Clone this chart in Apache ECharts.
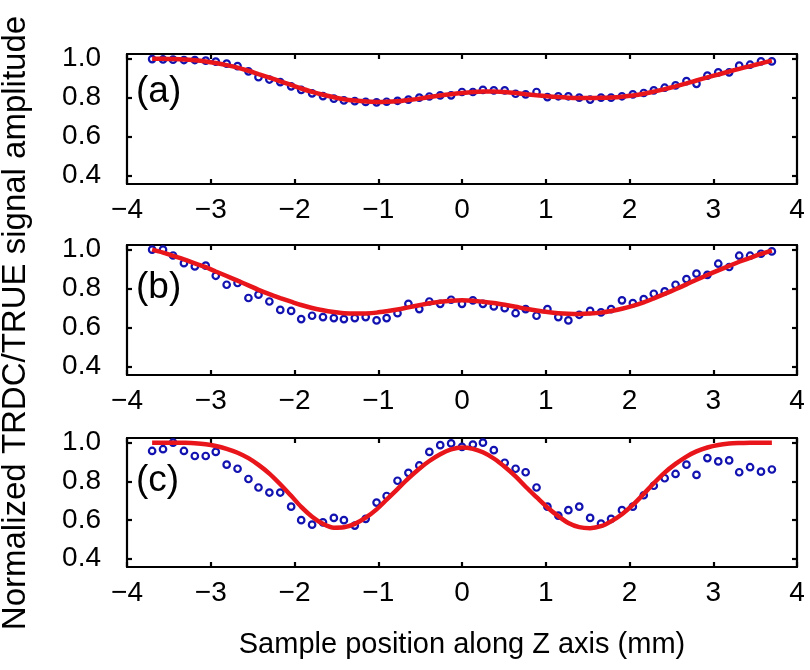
<!DOCTYPE html>
<html>
<head>
<meta charset="utf-8">
<script src="https://cdn.jsdelivr.net/npm/echarts@6/dist/echarts.min.js"></script>
<style>
  html, body { margin: 0; padding: 0; background: #ffffff; }
  #chart { width: 810px; height: 670px; }
</style>
</head>
<body>
<div id="chart"></div>
<script>
// Sample positions along Z (mm)
const xPos = [-3.70,-3.57,-3.45,-3.32,-3.19,-3.06,-2.94,-2.81,-2.68,-2.55,
  -2.43,-2.30,-2.17,-2.04,-1.92,-1.79,-1.66,-1.53,-1.41,-1.28,
  -1.15,-1.02,-0.90,-0.77,-0.64,-0.51,-0.39,-0.26,-0.13,0.00,
  0.13,0.25,0.38,0.51,0.64,0.76,0.89,1.02,1.15,1.27,
  1.40,1.53,1.66,1.78,1.91,2.04,2.17,2.29,2.42,2.55,
  2.68,2.80,2.93,3.06,3.19,3.31,3.44,3.57,3.70];

// Panel (a)
const measA = [0.998,0.996,0.995,0.993,0.993,0.990,0.985,0.975,0.962,0.935,
  0.905,0.893,0.880,0.858,0.840,0.822,0.808,0.795,0.786,0.782,
  0.778,0.776,0.779,0.784,0.790,0.800,0.806,0.812,0.812,0.829,
  0.829,0.840,0.837,0.837,0.820,0.817,0.829,0.803,0.807,0.807,
  0.800,0.790,0.800,0.800,0.807,0.817,0.824,0.837,0.851,0.863,
  0.885,0.871,0.913,0.930,0.930,0.964,0.969,0.986,0.986];
const fitA = [1.000,0.999,0.998,0.996,0.992,0.986,0.978,0.967,0.954,0.938,
  0.921,0.903,0.884,0.865,0.847,0.830,0.815,0.802,0.792,0.785,
  0.780,0.778,0.779,0.782,0.788,0.795,0.803,0.811,0.818,0.824,
  0.829,0.832,0.832,0.829,0.824,0.818,0.812,0.807,0.803,0.800,
  0.798,0.798,0.799,0.801,0.805,0.811,0.820,0.831,0.844,0.858,
  0.873,0.888,0.904,0.919,0.934,0.948,0.962,0.976,0.990];

// Panel (b)
const measB = [1.000,1.000,0.970,0.931,0.914,0.918,0.866,0.820,0.829,0.752,
  0.769,0.734,0.691,0.686,0.644,0.661,0.654,0.649,0.644,0.649,
  0.654,0.637,0.649,0.674,0.722,0.695,0.734,0.722,0.743,0.722,
  0.740,0.722,0.709,0.700,0.674,0.695,0.661,0.695,0.654,0.637,
  0.666,0.686,0.678,0.695,0.740,0.726,0.746,0.774,0.786,0.820,
  0.849,0.877,0.871,0.928,0.911,0.969,0.969,0.979,0.991];
const fitB = [1.000,0.985,0.968,0.950,0.930,0.910,0.888,0.865,0.841,0.817,
  0.794,0.772,0.752,0.733,0.716,0.701,0.689,0.680,0.674,0.672,
  0.673,0.677,0.684,0.693,0.704,0.715,0.725,0.733,0.738,0.740,
  0.738,0.733,0.726,0.717,0.707,0.697,0.688,0.680,0.674,0.671,
  0.670,0.672,0.677,0.685,0.697,0.712,0.730,0.750,0.773,0.797,
  0.822,0.846,0.870,0.894,0.917,0.938,0.958,0.978,0.995];

// Panel (c)
const measC = [0.957,0.966,1.000,0.957,0.931,0.931,0.952,0.886,0.865,0.812,
  0.768,0.742,0.742,0.669,0.599,0.576,0.588,0.611,0.599,0.571,
  0.606,0.690,0.724,0.803,0.844,0.882,0.952,0.987,0.996,0.978,
  0.990,1.000,0.961,0.896,0.865,0.847,0.768,0.669,0.623,0.651,
  0.669,0.611,0.581,0.606,0.651,0.669,0.728,0.777,0.816,0.838,
  0.886,0.833,0.920,0.903,0.908,0.847,0.873,0.850,0.861];
const fitC = [1.000,1.000,1.000,0.999,0.997,0.992,0.983,0.968,0.948,0.920,
  0.885,0.840,0.785,0.725,0.668,0.617,0.580,0.560,0.562,0.580,
  0.612,0.655,0.705,0.760,0.815,0.865,0.905,0.940,0.965,0.975,
  0.968,0.950,0.918,0.875,0.825,0.772,0.718,0.665,0.620,0.585,
  0.563,0.558,0.568,0.593,0.630,0.678,0.735,0.790,0.845,0.890,
  0.928,0.955,0.975,0.988,0.995,0.998,1.000,1.000,1.000];

const yTicks = [0.4, 0.6, 0.8, 1.0];
const panelLabels = ['(a)', '(b)', '(c)'];
const yTitle = 'Normalized TRDC/TRUE signal amplitude';
const xTitle = 'Sample position along Z axis (mm)';

const panels = [
  { meas: measA, fit: fitA, top: 54, height: 130, labelY: 93 },
  { meas: measB, fit: fitB, top: 245, height: 130, labelY: 289 },
  { meas: measC, fit: fitC, top: 438, height: 129, labelY: 482 }
];

const FONT = '"Liberation Sans", Arial, sans-serif';
const LINE = { color: '#000', width: 2.2 };
const grids = [], xAxes = [], yAxes = [], series = [], graphics = [];

panels.forEach((p, i) => {
  grids.push({ left: 127, right: 13, top: p.top, height: p.height, containLabel: false });
  const xCommon = {
    type: 'value', gridIndex: i, min: -4, max: 4, interval: 1,
    axisLine: { show: true, onZero: false, lineStyle: LINE },
    axisTick: { show: true, inside: true, length: 5, lineStyle: LINE },
    splitLine: { show: false }
  };
  xAxes.push(Object.assign({}, xCommon, {
    position: 'bottom',
    axisLabel: {
      show: true, margin: 12, fontSize: 28, color: '#000', fontFamily: FONT,
      formatter: v => String(v).replace('-', '\u2212')
    }
  }));
  xAxes.push(Object.assign({}, xCommon, { position: 'top', axisLabel: { show: false } }));
  const yCommon = {
    type: 'value', gridIndex: i, min: 0.357, max: 1.024,
    axisLine: { show: true, onZero: false, lineStyle: LINE },
    axisTick: { show: true, inside: true, length: 5, lineStyle: LINE, customValues: yTicks },
    splitLine: { show: false }
  };
  yAxes.push(Object.assign({}, yCommon, {
    position: 'left',
    axisLabel: {
      show: true, margin: 26, fontSize: 28, color: '#000', fontFamily: FONT,
      customValues: yTicks, formatter: v => v.toFixed(1)
    }
  }));
  yAxes.push(Object.assign({}, yCommon, { position: 'right', axisLabel: { show: false } }));

  series.push({
    type: 'scatter', xAxisIndex: 2 * i, yAxisIndex: 2 * i,
    data: xPos.map((x, k) => [x, p.meas[k]]),
    symbol: 'circle', symbolSize: 6.5,
    itemStyle: { color: 'rgba(0,0,0,0)', borderColor: '#1212b0', borderWidth: 2.2, opacity: 1 },
    z: 2, silent: true
  });
  series.push({
    type: 'line', xAxisIndex: 2 * i, yAxisIndex: 2 * i,
    data: xPos.map((x, k) => [x, p.fit[k]]),
    showSymbol: false, smooth: 0.3,
    lineStyle: { color: '#e8151b', width: 4.5 },
    z: 3, silent: true
  });

  graphics.push({
    type: 'text', left: 136, top: p.labelY - 20,
    style: { text: panelLabels[i], fontSize: 37, fontFamily: FONT, fill: '#000' }
  });
});

graphics.push({
  type: 'text', x: 16, y: 323, rotation: Math.PI / 2,
  style: { text: yTitle, fontSize: 33, fontFamily: FONT, fill: '#000',
           align: 'center', verticalAlign: 'middle' }
});
graphics.push({
  type: 'text', x: 462, y: 645,
  style: { text: xTitle, fontSize: 29, fontFamily: FONT, fill: '#000',
           align: 'center', verticalAlign: 'middle' }
});

const chart = echarts.init(document.getElementById('chart'), null, { renderer: 'canvas' });
chart.setOption({
  animation: false,
  backgroundColor: '#ffffff',
  grid: grids,
  xAxis: xAxes,
  yAxis: yAxes,
  series: series,
  graphic: graphics
});
</script>
</body>
</html>
